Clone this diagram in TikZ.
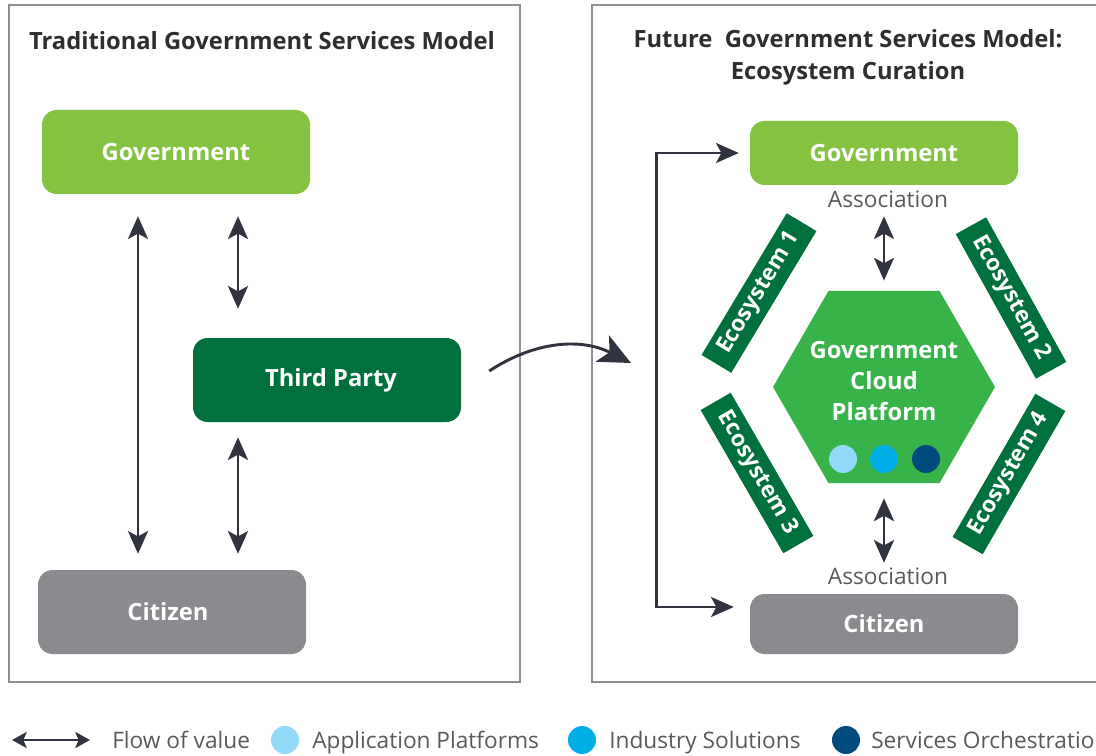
\documentclass[tikz,border=0pt]{standalone}
\usepackage{fontspec}
\setmainfont{Open Sans}
\usetikzlibrary{shapes.geometric,arrows.meta,positioning,calc}

\definecolor{govgreen}{HTML}{84C341}
\definecolor{darkgreen}{HTML}{00703C}
\definecolor{hexgreen}{HTML}{37B34A}
\definecolor{citgray}{HTML}{898B8E}
\definecolor{framegray}{HTML}{8E8F92}
\definecolor{arrowgray}{HTML}{31343F}
\definecolor{titlegray}{HTML}{2E2E30}
\definecolor{softgray}{HTML}{58595B}
\definecolor{appblue}{HTML}{92D8F7}
\definecolor{indblue}{HTML}{00AEE8}
\definecolor{orchblue}{HTML}{004B7D}

\begin{document}
\begin{tikzpicture}[x=0.75pt,y=-0.75pt,
  >={Stealth[length=17pt,width=15pt,inset=4pt]},
  title/.style={text=titlegray,font=\fontsize{17.8}{24}\selectfont\bfseries,align=center},
  box/.style={rounded corners=11pt,minimum width=201pt,minimum height=63pt,
    text=white,font=\fontsize{17.8}{21}\selectfont\bfseries},
  eco/.style={fill=darkgreen,text=white,font=\fontsize{17}{20}\selectfont\bfseries,
    minimum width=124pt,minimum height=26pt,inner sep=0pt},
  flow/.style={<->,line width=2.2pt,draw=arrowgray},
  assoc/.style={text=softgray,font=\fontsize{17}{19}\selectfont},
  legend/.style={text=softgray,font=\fontsize{17}{19}\selectfont,anchor=base west,inner sep=0pt},
  dot/.style={circle,minimum size=21pt,inner sep=0pt}]
  \useasboundingbox (0,0) rectangle (1096,756);

  % frames
  \draw[framegray,line width=2.2pt] (9,5) rectangle (520,682);
  \draw[framegray,line width=2.2pt] (592,5) rectangle (1120,682);

  % traditional model
  \node[title] (ttl1) at (262,41) {Traditional Government Services Model};
  \node[box,fill=govgreen] (gov1) at (176,152) {Government};
  \node[box,fill=darkgreen] (third) at (327,380) {\hspace{6pt}Third Party};
  \node[box,fill=citgray] (cit1) at (172,612) {\hspace{-6pt}Citizen};
  \draw[flow] ($(gov1.south)+(-38,22)$) -- ($(cit1.north)+(-34,-16)$);
  \draw[flow] ($(gov1.south)+(62,22)$) -- ($(third.north)+(-89,-29)$);
  \draw[flow] ($(third.south)+(-89,15)$) -- ($(cit1.north)+(66,-16)$);

  % change of model
  \coordinate (sweep) at (631,363);
  \draw[->,>={Stealth[length=24pt,width=22pt,inset=6pt]},line width=2.2pt,arrowgray]
    ($(third.east)+(28,-9)$) to[bend left=30] (sweep);

  % future model
  \node[title] (ttl2) at (848,57) {Future\ \ Government Services Model:\\Ecosystem Curation};
  \node[box,fill=govgreen,minimum height=48pt] (gov2) at (884,153) {Government};
  \node[box,fill=citgray,minimum height=45pt] (cit2) at (884,624) {Citizen};
  \node[assoc] (assoc1) at (888,199) {Association};
  \node[assoc] (assoc2) at (888,576) {Association};
  \node[regular polygon,regular polygon sides=6,minimum size=166.5pt,inner sep=0pt,
    fill=hexgreen] (cloud) at (884,387) {};
  \node[text=white,font=\fontsize{17.8}{23.6}\selectfont\bfseries,align=center]
    (cloudtxt) at (884,381) {Government\\Cloud\\Platform};
  \node[dot,fill=appblue] (app) at (843,459) {};
  \node[dot,fill=indblue] (ind) at (884,459) {};
  \node[dot,fill=orchblue] (orch) at (926,459) {};

  \node[eco,rotate=59] (eco1) at (759,293) {Ecosystem 1};
  \node[eco,rotate=-61] (eco2) at (1011,298) {Ecosystem 2};
  \node[eco,rotate=-60] (eco3) at (757,473) {Ecosystem 3};
  \node[eco,rotate=60] (eco4) at (1009,474) {Ecosystem 4};

  \draw[flow] ($(gov2.south)+(0,31)$) -- ($(cloud.north)+(0,-10)$);
  \draw[flow] ($(cloud.south)+(0,15)$) -- ($(cit2.north)+(0,-31)$);
  \draw[flow] ($(gov2.west)+(-11,0)$) -- ++(-82,0) |- ($(cit2.west)+(-16,-17)$);

  % legend
  \coordinate (lgA) at (12,740);
  \coordinate (lgB) at (90,740);
  \draw[<->,>={Stealth[length=11pt,width=12pt,inset=2.5pt]},line width=2.2pt,arrowgray] (lgA) -- (lgB);
  \node[legend] (lgflow) at (112,748) {Flow of value};
  \node[dot,fill=appblue] (lgapp) at (285,740) {};
  \node[legend] (lgapptxt) at (312,748) {Application Platforms};
  \node[dot,fill=indblue] (lgind) at (582,740) {};
  \node[legend] (lgindtxt) at (609,748) {Industry Solutions};
  \node[dot,fill=orchblue] (lgorch) at (846,740) {};
  \node[legend] (lgorchtxt) at (871,748) {Services Orchestration};
\end{tikzpicture}
\end{document}
